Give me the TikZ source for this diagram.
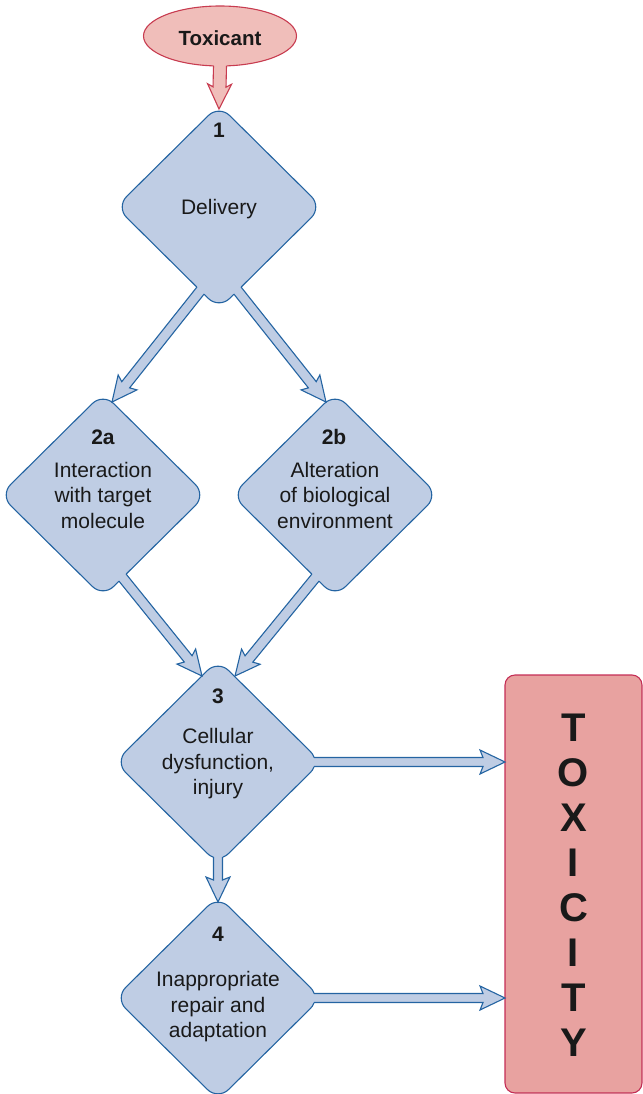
\documentclass[tikz,border=0pt]{standalone}
\usepackage{fontspec}
\setmainfont{Liberation Sans}
\usetikzlibrary{shapes.geometric,calc}

\definecolor{stepfill}{RGB}{191,205,228}
\definecolor{stepline}{RGB}{36,100,162}
\definecolor{toxfill}{RGB}{240,190,186}
\definecolor{toxline}{RGB}{200,60,80}
\definecolor{resfill}{RGB}{232,162,160}
\definecolor{resline}{RGB}{196,46,86}

% Wide hollow arrow.
% #1 fill, #2 outline colour, #3 shaft half width,
% #4 point where the shaft leaves the source shape, #5 tip,
% #6 outline path of the source shape (the outline is hidden inside it)
\newcommand{\fatarrow}[6]{%
  \coordinate (fa-t) at ($(#4)!-12pt!(#5)$);
  \coordinate (fa-h) at ($(#5)!22pt!(#4)$);
  \coordinate (fa-b) at ($(#5)!25pt!(#4)$);
  \path[fill=#1] ($(fa-t)!#3!90:(#5)$) -- ($(fa-h)!#3!-90:(fa-t)$)
    -- ($(fa-b)!12pt!-90:(fa-t)$) -- (#5) -- ($(fa-b)!12pt!90:(fa-t)$)
    -- ($(fa-h)!#3!90:(fa-t)$) -- ($(fa-t)!#3!-90:(#5)$) -- cycle;
  \begin{scope}[even odd rule]
    \clip[rounded corners=15pt] (-50,-50) rectangle (700,1150) #6;
    \path[draw=#2, line width=1.1pt, line join=miter]
      ($(fa-t)!#3!90:(#5)$) -- ($(fa-h)!#3!-90:(fa-t)$)
      -- ($(fa-b)!12pt!-90:(fa-t)$) -- (#5) -- ($(fa-b)!12pt!90:(fa-t)$)
      -- ($(fa-h)!#3!90:(fa-t)$) -- ($(fa-t)!#3!-90:(#5)$) -- cycle;
  \end{scope}
}

\tikzset{
  stepbox/.style={diamond, draw=stepline, fill=stepfill, line width=1.1pt,
    rounded corners=15pt, minimum width=206pt, minimum height=204pt,
    inner sep=0pt, outer sep=0pt},
  lbl/.style={font=\fontsize{21}{25.5}\selectfont, align=center, text=black!90},
  num/.style={font=\fontsize{21}{25}\selectfont\bfseries, text=black!90},
}

\begin{document}
\begin{tikzpicture}[x=1pt, y=-1pt]
\useasboundingbox (0,0) rectangle (642,1094);

% source and result
\node[ellipse, draw=toxline, fill=toxfill, line width=1.1pt,
      minimum width=153pt, minimum height=60pt, inner sep=0pt, outer sep=0pt]
      (tox) at (220,36) {};
\node[rectangle, draw=resline, fill=resfill, line width=1.1pt, rounded corners=10pt,
      minimum width=137pt, minimum height=418pt, inner sep=0pt, outer sep=0pt]
      (box) at (573.5,884) {};

% steps
\node[stepbox] (d1)  at (219,207) {};
\node[stepbox] (d2a) at (103,495) {};
\node[stepbox] (d2b) at (335,495) {};
\node[stepbox] (d3)  at (218,762) {};
\node[stepbox] (d4)  at (218,998) {};

% where the connectors leave and arrive
\coordinate (t1)  at ($(d1.north)+(0,4)$);
\coordinate (s1l) at ($(d1.south)!0.18!(d1.west)$);
\coordinate (s1r) at ($(d1.south)!0.18!(d1.east)$);
\coordinate (t2a) at ($(d2a.center)+(9,-93)$);
\coordinate (t2b) at ($(d2b.center)+(-9,-93)$);
\coordinate (s2a) at ($(d2a.south)!0.19!(d2a.east)$);
\coordinate (s2b) at ($(d2b.south)!0.19!(d2b.west)$);
\coordinate (t3l) at ($(d3.center)+(-16,-86)$);
\coordinate (t3r) at ($(d3.center)+(17,-86)$);
\coordinate (t4)  at ($(d4.north)+(0,6)$);
\coordinate (tx3) at (box.west |- d3.center);
\coordinate (tx4) at (box.west |- d4.center);

% connectors
\fatarrow{toxfill}{toxline}{6.5pt}{tox.south}{t1}{(tox.center) ellipse [x radius=76.5pt, y radius=30pt]}
\fatarrow{stepfill}{stepline}{5pt}{s1l}{t2a}{(d1.north) -- (d1.east) -- (d1.south) -- (d1.west) -- cycle}
\fatarrow{stepfill}{stepline}{5pt}{s1r}{t2b}{(d1.north) -- (d1.east) -- (d1.south) -- (d1.west) -- cycle}
\fatarrow{stepfill}{stepline}{5pt}{s2a}{t3l}{(d2a.north) -- (d2a.east) -- (d2a.south) -- (d2a.west) -- cycle}
\fatarrow{stepfill}{stepline}{5pt}{s2b}{t3r}{(d2b.north) -- (d2b.east) -- (d2b.south) -- (d2b.west) -- cycle}
\fatarrow{stepfill}{stepline}{4.5pt}{d3.south}{t4}{(d3.north) -- (d3.east) -- (d3.south) -- (d3.west) -- cycle}
\fatarrow{stepfill}{stepline}{4.5pt}{d3.east}{tx3}{(d3.north) -- (d3.east) -- (d3.south) -- (d3.west) -- cycle}
\fatarrow{stepfill}{stepline}{4.5pt}{d4.east}{tx4}{(d4.north) -- (d4.east) -- (d4.south) -- (d4.west) -- cycle}

% texts
\node[font=\fontsize{20.5}{24}\selectfont\bfseries, text=black!90] (toxt) at (220,38) {Toxicant};
\node[num] (n1)  at (219,130) {1};
\node[lbl] (l1)  at (219,209) {Delivery};
\node[num] (n2a) at (103,437) {2a};
\node[lbl] (l2a) at (103,495) {Interaction\\with target\\molecule};
\node[num] (n2b) at (334,437) {2b};
\node[lbl] (l2b) at (335,495) {Alteration\\of biological\\environment};
\node[num] (n3)  at (218,696) {3};
\node[lbl] (l3)  at (218,764) {Cellular\\dysfunction,\\injury};
\node[num] (n4)  at (218,934) {4};
\node[lbl] (l4)  at (218,1007) {Inappropriate\\repair and\\adaptation};
\node[font=\fontsize{40}{45}\selectfont\bfseries, align=center, text=black!90]
  (res) at (573.5,885.5) {T\\O\\X\\I\\C\\I\\T\\Y};
\end{tikzpicture}
\end{document}
